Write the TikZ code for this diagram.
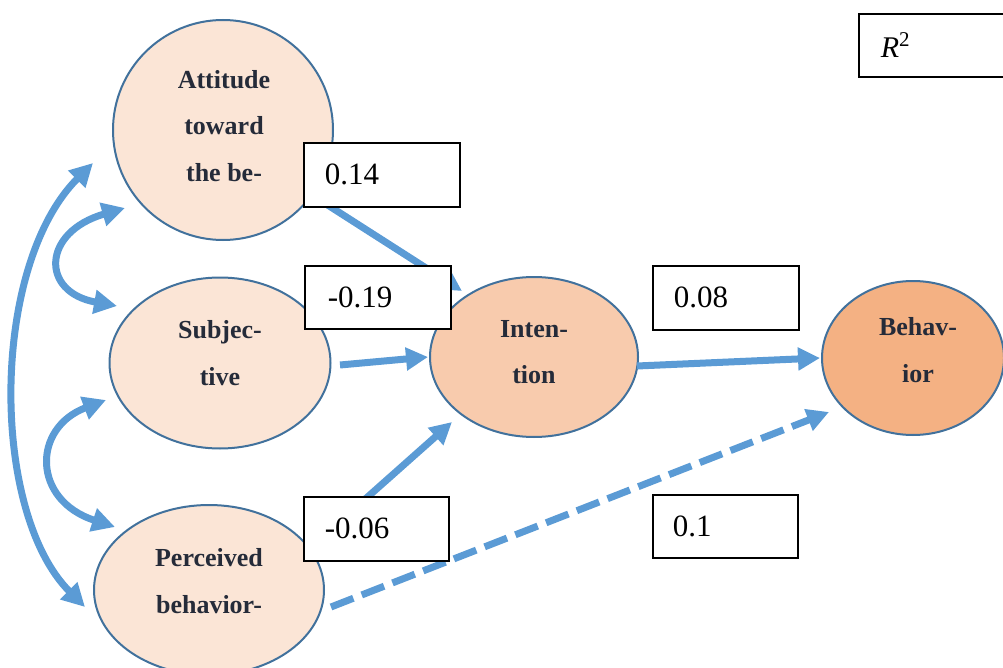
\documentclass[tikz,border=0pt]{standalone}
\usepackage{fontspec}
\setmainfont{Liberation Serif}
\usetikzlibrary{arrows.meta,shapes.geometric}
\definecolor{ellline}{HTML}{41719C}
\definecolor{elllight}{HTML}{FBE5D6}
\definecolor{ellmid}{HTML}{F8CBAD}
\definecolor{elldark}{HTML}{F4B183}
\definecolor{arrblue}{HTML}{5B9BD5}
\definecolor{lbltext}{HTML}{252B39}
\begin{document}
\begin{tikzpicture}[x=1pt,y=-1pt,
  ell/.style={ellipse, draw=ellline, line width=2pt, inner sep=0pt},
  lbl/.style={font=\fontsize{26}{46.5}\selectfont\bfseries, text=lbltext, align=center, inner sep=0pt},
  nbox/.style={draw=black, line width=1.8pt, fill=white, anchor=north west, inner ysep=0pt, align=left, font=\fontsize{31}{36}\selectfont},
  arr/.style={draw=arrblue, line width=7pt, -{Triangle[length=22pt,width=22pt]}},
  dbl/.style={draw=arrblue, line width=7pt, {Triangle[length=23pt,width=23pt]}-{Triangle[length=23pt,width=23pt]}},
  dashline/.style={dash pattern=on 24pt off 9pt}
]
\clip (0,0) rectangle (1003,668);

% ellipses
\node[ell, fill=elllight, minimum width=220pt, minimum height=220pt] (att) at (223,130) {};
\node[ell, fill=elllight, minimum width=221pt, minimum height=171pt] (sub) at (220,363) {};
\node[ell, fill=elllight, minimum width=230pt, minimum height=170pt] (per) at (209,590) {};
\node[ell, fill=ellmid, minimum width=208pt, minimum height=160pt] (int) at (534,357) {};
\node[ell, fill=elldark, minimum width=182pt, minimum height=154pt] (beh) at (913,358) {};

% labels
\node[lbl] (attT) at (224,126) {Attitude\\toward\\the be-};
\node[lbl] (subT) at (220,353) {Subjec-\\tive};
\node[lbl] (perT) at (209,581) {Perceived\\behavior-};
\node[lbl] (intT) at (534,352) {Inten-\\tion};
\node[lbl] (behT) at (918,350) {Behav-\\ior};

% curved double arrows
\draw[dbl] ([shift={(-130,33)}]att.center) .. controls (-10,266) and (-10,512) .. ([shift={(-124,17)}]per.center);
\draw[dbl] ([shift={(-98,78)}]att.center) .. controls (42,232) and (40,292) .. ([shift={(-103,-57)}]sub.center);
\draw[dbl] ([shift={(-114,37)}]sub.center) .. controls (32,428) and (32,500) .. ([shift={(-94,-63)}]per.center);

% straight arrows
\draw[arr] ([shift={(89,65)}]att.center) -- ([shift={(-72,-66)}]int.center);
\draw[arr] ([shift={(120,2)}]sub.center) -- ([shift={(-106,0)}]int.center);
\draw[arr] ([shift={(100,-41)}]per.center) -- ([shift={(-82,65)}]int.center);
\draw[arr] ([shift={(103,9)}]int.center) -- ([shift={(-93,0)}]beh.center);
\draw[arr, dashline] ([shift={(122,17)}]per.center) -- ([shift={(-84,54)}]beh.center);

% coefficient boxes
\node[nbox, inner xsep=21pt, text width=114pt, minimum height=64pt] (b14) at (303,142) {0.14};
\node[nbox, inner xsep=23pt, text width=100pt, minimum height=63pt] (b19) at (304,265) {-0.19};
\node[nbox, inner xsep=21pt, text width=104pt, minimum height=64pt] (b08) at (652,265) {0.08};
\node[nbox, inner xsep=21pt, text width=103pt, minimum height=64pt] (b06) at (303,496) {-0.06};
\node[nbox, inner xsep=20pt, text width=105pt, minimum height=63pt] (b1) at (652,494) {0.1};
\node[nbox, inner xsep=22pt, text width=108pt, minimum height=63pt, font=\fontsize{30}{36}\selectfont] (r2) at (858,13) {\textit{R}\raisebox{11pt}{\fontsize{21}{24}\selectfont 2}};
\end{tikzpicture}
\end{document}
